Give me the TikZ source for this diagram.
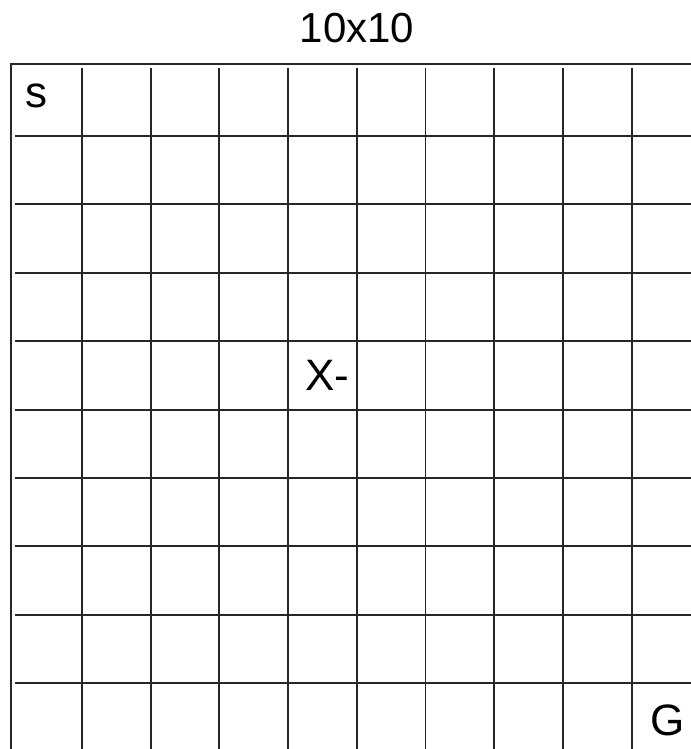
\documentclass[tikz,border=0pt]{standalone}
\usepackage{fontspec}
\setmainfont{Liberation Sans}

\begin{document}
\begin{tikzpicture}[x=0.75pt,y=-0.75pt,
  gridline/.style={line width=1.4pt,black!85},
  lbl/.style={font=\fontsize{33}{33}\selectfont,inner sep=0pt,anchor=base}]
\useasboundingbox (0,0) rectangle (691,749);
% outer frame (right and bottom run off the picture)
\draw[gridline] (11,749)--(11,64)--(691,64);
% inner lines of the 10x10 board
\foreach \k in {1,...,9} {
  \draw[gridline] ({13.3+68.7*\k},68)--({13.3+68.7*\k},749);
  \draw[gridline] (15,{67.6+68.4*\k})--(691,{67.6+68.4*\k});
}
% labels
\node[lbl,font=\fontsize{31.5}{31.5}\selectfont] (title) at (357,43) {10x10};
\node[lbl] (start) at (36.5,108) {s};
\node[lbl] (mark) at (327,390) {X-};
\node[lbl] (goal) at (667.5,735) {G};
\end{tikzpicture}
\end{document}
